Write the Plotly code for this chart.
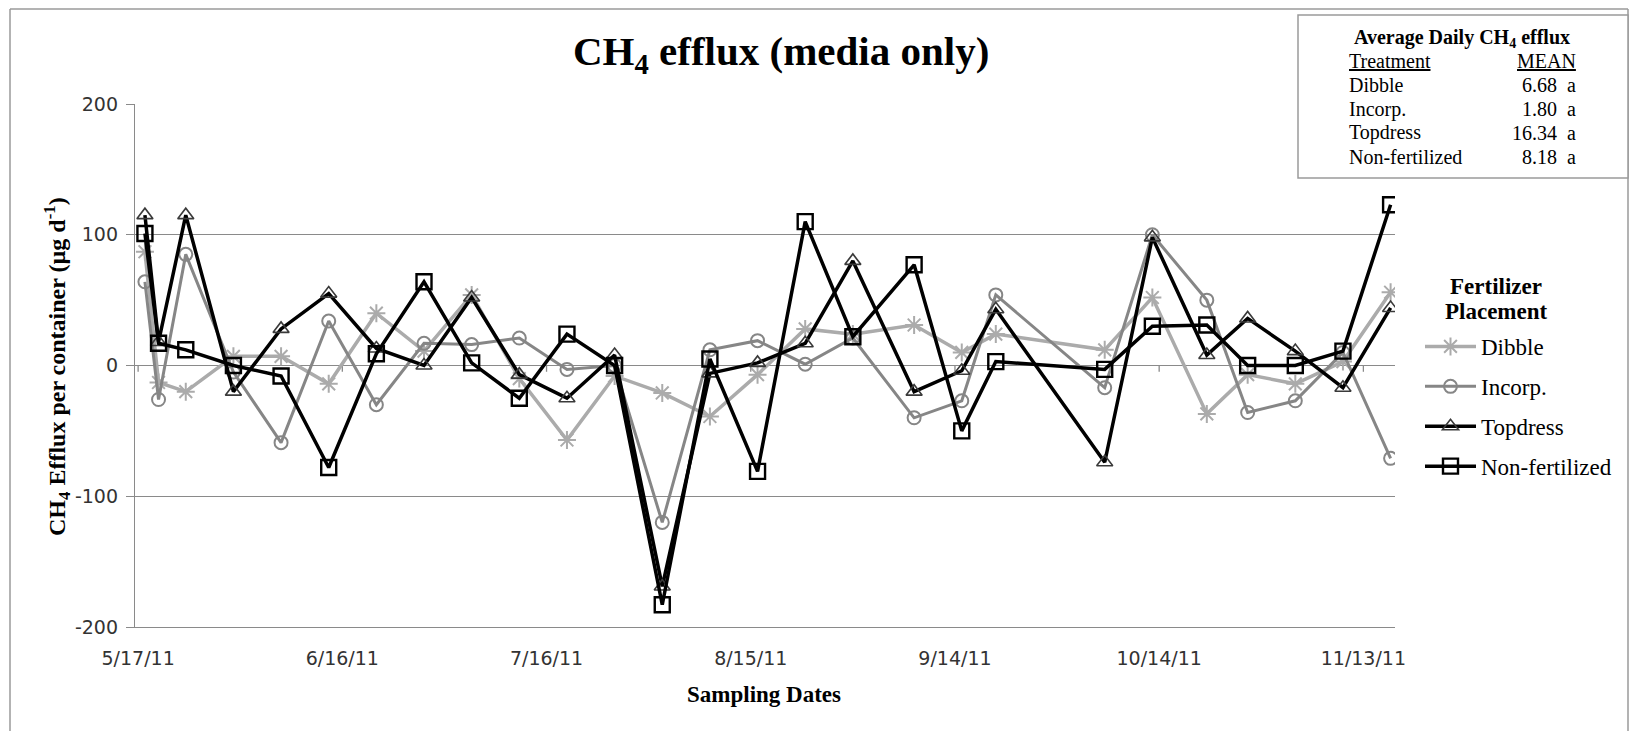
import plotly.graph_objects as go

# Sampling dates and CH4 efflux per container (ug d-1) by fertilizer placement
dates = ["2011-05-18", "2011-05-20", "2011-05-24", "2011-05-31", "2011-06-07",
         "2011-06-14", "2011-06-21", "2011-06-28", "2011-07-05", "2011-07-12",
         "2011-07-19", "2011-07-26", "2011-08-02", "2011-08-09", "2011-08-16",
         "2011-08-23", "2011-08-30", "2011-09-08", "2011-09-15", "2011-09-20",
         "2011-10-06", "2011-10-13", "2011-10-21", "2011-10-27", "2011-11-03",
         "2011-11-10", "2011-11-17"]

dibble = [87, -13, -20, 7, 7, -14, 40, 11, 54, -10, -57, -8, -21, -39, -7, 28, 24,
          31, 10, 24, 12, 52, -37, -7, -14, 3, 56]
incorp = [64, -26, 85, -5, -59, 34, -30, 17, 16, 21, -3, 0, -120, 12, 19, 1, 21,
          -40, -27, 54, -17, 100, 50, -36, -27, 10, -71]
topdress = [115, 18, 115, -20, 28, 55, 13, 0, 52, -7, -25, 8, -169, -6, 2, 17, 80,
            -20, -4, 43, -74, 98, 8, 36, 11, -17, 44]
nonfert = [101, 17, 12, 0, -8, -78, 9, 64, 2, -25, 24, 0, -183, 5, -81, 110, 22,
           77, -50, 3, -3, 30, 31, 0, 0, 11, 123]

# Axis ticks
x_tick_dates = ["2011-05-17", "2011-06-16", "2011-07-16", "2011-08-15",
                "2011-09-14", "2011-10-14", "2011-11-13"]
x_tick_labels = ["5/17/11", "6/16/11", "7/16/11", "8/15/11", "9/14/11",
                 "10/14/11", "11/13/11"]
y_ticks = [-200, -100, 0, 100, 200]
y_tick_labels = ["-200", "-100", "0", "100", "200"]

# Summary table of mean daily efflux
treatments = ["Dibble", "Incorp.", "Topdress", "Non-fertilized"]
means = ["6.68", "1.80", "16.34", "8.18"]
groups = ["a", "a", "a", "a"]

SERIF = "Liberation Serif, Times New Roman, serif"
SANS = "DejaVu Sans, Verdana, sans-serif"
GRID = "#8a8a8a"

W, H = 1633, 731
L, R, T, B = 135, 238, 104, 104
PW, PH = W - L - R, H - T - B


def px(xp):
    return (xp - L) / PW


def py(yp):
    return (H - B - yp) / PH


fig = go.Figure()

series = [
    ("Dibble", dibble, "#ababab", 3.5, "asterisk-open", 15, "#ababab", 2),
    ("Incorp.", incorp, "#868686", 3, "circle-open", 13, "#868686", 2),
    ("Topdress", topdress, "#000000", 3.5, "triangle-up-open", 14, "#3a3a3a", 1.6),
    ("Non-fertilized", nonfert, "#000000", 3.5, "square-open", 15, "#000000", 2.4),
]
for i, (name, vals, col, lw, sym, ms, mcol, mlw) in enumerate(series):
    fig.add_trace(go.Scatter(
        x=dates, y=vals, name=name, mode="lines+markers",
        legendgroup=f"g{i}",
        line=dict(color=col, width=lw),
        marker=dict(symbol=sym, size=ms, color=mcol, line=dict(color=mcol, width=mlw)),
    ))

# Tick marks on the horizontal axis where it crosses zero
shapes = []
for d in x_tick_dates:
    shapes.append(dict(type="line", xref="x", yref="y", x0=d, x1=d, y0=0, y1=-4.8,
                       line=dict(color=GRID, width=1.3), layer="below"))

# Outer chart border
border = dict(color="#9a9a9a", width=1.5)
shapes.append(dict(type="line", xref="paper", yref="paper", x0=px(10), x1=px(10),
                   y0=py(9), y1=py(740), line=border))
shapes.append(dict(type="line", xref="paper", yref="paper", x0=px(10), x1=px(1628),
                   y0=py(9), y1=py(9), line=border))
shapes.append(dict(type="line", xref="paper", yref="paper", x0=px(1628), x1=px(1628),
                   y0=py(9), y1=py(740), line=border))

# Summary box
shapes.append(dict(type="rect", xref="paper", yref="paper", x0=px(1298), x1=px(1628),
                   y0=py(178), y1=py(15), fillcolor="white",
                   line=border, layer="above"))


def note(text, xp, yp, size, xanchor="center", angle=0):
    return dict(text=text, x=px(xp), y=py(yp), xref="paper", yref="paper",
                showarrow=False, xanchor=xanchor, yanchor="middle", textangle=angle,
                font=dict(family=SERIF, size=size, color="black"))


annotations = [
    note("<b>CH<sub>4</sub> efflux (media only)</b>", 781, 54, 41),
    note("<b>CH<sub>4</sub> Efflux per container (µg d<sup>-1</sup>)</b>", 57, 367, 24,
         angle=-90),
    note("<b>Sampling Dates</b>", 764, 694, 23),
    note("<b>Fertilizer</b>", 1496, 286, 23),
    note("<b>Placement</b>", 1496, 311, 23),
    note("<b>Average Daily CH<sub>4</sub> efflux</b>", 1462, 38, 20),
    note("<u>Treatment</u>", 1347, 61, 20, xanchor="left"),
    note("<u>MEAN</u>", 1578, 61, 20, xanchor="right"),
]
row_y = [85, 109, 133, 157]
for t, m, g, ry in zip(treatments, means, groups, row_y):
    annotations.append(note(t, 1347, ry, 20, xanchor="left"))
    annotations.append(note(f"{m}  {g}", 1578, ry, 20, xanchor="right"))

fig.update_layout(
    width=W, height=H,
    margin=dict(l=L, r=R, t=T, b=B, autoexpand=False),
    paper_bgcolor="white", plot_bgcolor="white",
    shapes=shapes, annotations=annotations,
    legend=dict(
        font=dict(family=SERIF, size=23, color="black"),
        x=px(1420), y=py(325), xanchor="left", yanchor="top",
        tracegroupgap=7, itemwidth=51, bgcolor="rgba(0,0,0,0)",
    ),
    xaxis=dict(
        type="date", range=["2011-05-16 13:00", "2011-11-17 15:30"],
        tickvals=x_tick_dates, ticktext=x_tick_labels,
        showgrid=False, zeroline=False, showline=True, linecolor=GRID, linewidth=1.3,
        ticks="", ticklabelstandoff=14,
        tickfont=dict(family=SANS, size=19, color="#333333"),
    ),
    yaxis=dict(
        range=[-200, 200], tickvals=y_ticks, ticktext=y_tick_labels,
        showgrid=True, gridcolor=GRID, gridwidth=1.3,
        zeroline=True, zerolinecolor=GRID, zerolinewidth=1.3,
        showline=True, linecolor=GRID, linewidth=1.3,
        ticks="outside", ticklen=8, tickcolor=GRID, tickwidth=1.3,
        ticklabelstandoff=4,
        tickfont=dict(family=SANS, size=19, color="#333333"),
    ),
    showlegend=True,
)

fig.write_html("out.html")
